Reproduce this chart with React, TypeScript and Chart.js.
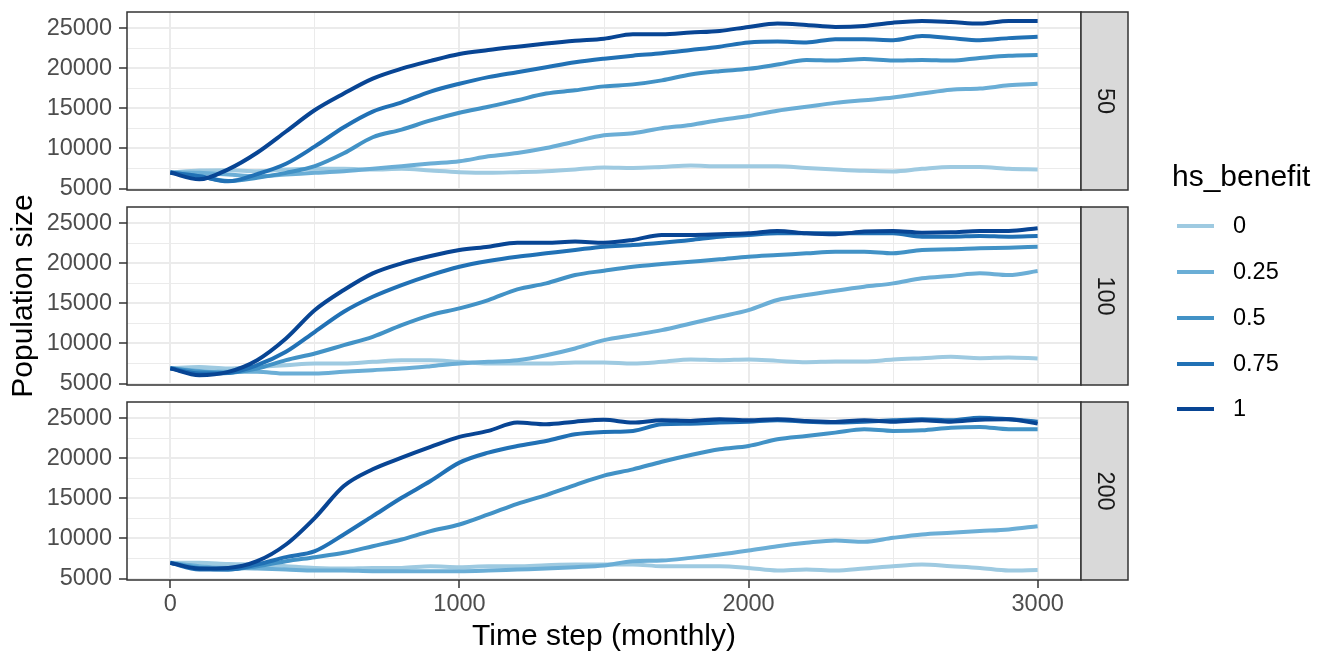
import React, { useEffect, useRef } from 'react';
import { Chart, registerables } from 'chart.js';
Chart.register(...registerables);

// ---------- data ----------
const timeSteps = [0, 100, 200, 300, 400, 500, 600, 700, 800, 900, 1000, 1100, 1200, 1300, 1400, 1500,
  1600, 1700, 1800, 1900, 2000, 2100, 2200, 2300, 2400, 2500, 2600, 2700, 2800, 2900, 3000];
const hsBenefit = ['0', '0.25', '0.5', '0.75', '1'];
const seriesColors = ['#9ECAE1', '#6BAED6', '#4292C6', '#2171B5', '#084594'];
const facetLabels = ['50', '100', '200'];

const xMajorTicks = [0, 1000, 2000, 3000];
const xMinorTicks = [500, 1500, 2500];
const yMajorTicks = [5000, 10000, 15000, 20000, 25000];
const yMinorTicks = [7500, 12500, 17500, 22500];

// facet 50
const f50_b0 = [7000, 7250, 7290, 7170, 7380, 7460, 7460, 7380, 7460, 7250, 7050, 6960, 7050, 7170, 7380, 7640, 7580, 7700, 7870, 7790, 7790, 7790, 7580, 7380, 7210, 7130, 7460, 7700, 7700, 7460, 7380];
const f50_b025 = [7000, 6960, 6760, 6550, 6760, 6960, 7170, 7460, 7790, 8120, 8410, 9020, 9440, 10050, 10880, 11640, 11910, 12520, 12940, 13550, 14050, 14710, 15200, 15690, 16020, 16350, 16850, 17340, 17470, 17880, 18080];
const f50_b05 = [7000, 6550, 5940, 6350, 6960, 7800, 9400, 11400, 12350, 13500, 14460, 15200, 16020, 16850, 17260, 17750, 18000, 18500, 19240, 19650, 19940, 20470, 21050, 20970, 21170, 20970, 21050, 20970, 21300, 21580, 21670];
const f50_b075 = [7000, 6550, 5900, 6800, 8100, 10260, 12650, 14600, 15750, 17100, 18080, 18900, 19520, 20140, 20760, 21210, 21580, 21870, 22280, 22700, 23230, 23350, 23230, 23640, 23640, 23520, 24050, 23770, 23520, 23770, 23930];
const f50_b1 = [7000, 6150, 7400, 9470, 12120, 14800, 16860, 18720, 19960, 20930, 21790, 22280, 22700, 23100, 23440, 23690, 24260, 24260, 24470, 24670, 25170, 25580, 25410, 25170, 25290, 25700, 25910, 25780, 25580, 25910, 25910];

// facet 100
const f100_b0 = [6900, 7080, 6875, 7080, 7290, 7500, 7500, 7710, 7920, 7920, 7710, 7500, 7500, 7500, 7630, 7630, 7500, 7710, 8000, 7920, 8000, 7830, 7670, 7750, 7750, 8000, 8170, 8330, 8170, 8250, 8130];
const f100_b025 = [6900, 6580, 6460, 6460, 6250, 6250, 6460, 6670, 6875, 7170, 7500, 7710, 7920, 8540, 9380, 10420, 11040, 11670, 12500, 13330, 14170, 15420, 16040, 16580, 17080, 17500, 18130, 18420, 18750, 18540, 19040];
const f100_b05 = [6900, 6460, 6330, 6875, 7920, 8750, 9790, 10830, 12290, 13540, 14380, 15420, 16750, 17500, 18540, 19080, 19580, 19920, 20210, 20500, 20830, 21040, 21250, 21460, 21460, 21250, 21670, 21750, 21880, 21960, 22080];
const f100_b075 = [6900, 6250, 6330, 7290, 8960, 11460, 13960, 15830, 17290, 18540, 19580, 20290, 20830, 21250, 21670, 22080, 22290, 22580, 22920, 23330, 23540, 23750, 23750, 23750, 23750, 23750, 23330, 23330, 23420, 23330, 23420];
const f100_b1 = [6900, 6040, 6460, 7920, 10620, 14170, 16670, 18750, 20000, 20920, 21670, 22080, 22580, 22580, 22710, 22580, 22920, 23540, 23540, 23630, 23750, 24040, 23750, 23630, 23960, 24040, 23830, 23880, 24040, 24040, 24380];

// facet 200
const f200_b0 = [6960, 6960, 6830, 6750, 6540, 6330, 6250, 6330, 6330, 6540, 6420, 6540, 6540, 6670, 6750, 6750, 6750, 6540, 6540, 6540, 6330, 6000, 6130, 6000, 6250, 6540, 6750, 6540, 6330, 6000, 6080];
const f200_b025 = [6960, 6540, 6330, 6250, 6130, 6000, 6000, 5920, 5920, 5920, 5920, 6000, 6130, 6250, 6420, 6640, 7170, 7250, 7580, 8000, 8500, 9040, 9460, 9750, 9580, 10080, 10500, 10710, 10920, 11130, 11540];
const f200_b05 = [6960, 6330, 6130, 6540, 7170, 7670, 8210, 9040, 9880, 10920, 11750, 13000, 14330, 15420, 16670, 17850, 18630, 19580, 20420, 21130, 21540, 22380, 22790, 23210, 23630, 23420, 23500, 23830, 23920, 23630, 23630];
const f200_b075 = [6960, 6130, 6130, 6750, 7670, 8420, 10500, 12790, 15080, 17170, 19460, 20710, 21540, 22170, 23000, 23290, 23420, 24250, 24330, 24460, 24580, 24750, 24580, 24460, 24580, 24750, 24880, 24750, 25080, 24880, 24580];
const f200_b1 = [6960, 6250, 6330, 7170, 9250, 12580, 16540, 18630, 20080, 21420, 22670, 23420, 24460, 24250, 24580, 24810, 24460, 24750, 24670, 24880, 24750, 24880, 24670, 24540, 24750, 24580, 24750, 24580, 24830, 24880, 24330];

const facetSeries = [
  [f50_b0, f50_b025, f50_b05, f50_b075, f50_b1],
  [f100_b0, f100_b025, f100_b05, f100_b075, f100_b1],
  [f200_b0, f200_b025, f200_b05, f200_b075, f200_b1],
];

// ---------- layout ----------
const W = 1329;
const FONT = '"Liberation Sans", Arial, Helvetica, sans-serif';
const canvasTops = [0, 195, 390];
const canvasHeights = [200, 200, 264];
const X_MIN = -150, X_MAX = 3150;
const Y_MIN = 4820, Y_MAX = 27030;
const STRIP_W = 47;
const TICK_FONT = 23.5;
const TITLE_FONT = 30;

function makeChart(canvas: HTMLCanvasElement, idx: number) {
  const isBottom = idx === 2;
  const allX = [...xMajorTicks, ...xMinorTicks].sort((a, b) => a - b);
  const allY = [...yMajorTicks, ...yMinorTicks].sort((a, b) => a - b);
  const isMajorX = (v: number) => xMajorTicks.includes(v);
  const isMajorY = (v: number) => yMajorTicks.includes(v);

  const datasets = hsBenefit.map((lab, i) => ({
    label: lab,
    data: timeSteps.map((t, k) => ({ x: t, y: facetSeries[idx][i][k] })),
    borderColor: seriesColors[i],
    backgroundColor: seriesColors[i],
    borderWidth: 4,
    pointRadius: 0,
    fill: false,
    cubicInterpolationMode: 'monotone',
    order: 4 - i,
  }));

  const panelPlugin = {
    id: 'panelDecor' + idx,
    afterDraw(chart: any) {
      const { ctx, chartArea } = chart;
      const { left, top, right, bottom } = chartArea;
      ctx.save();
      ctx.strokeStyle = '#333333';
      ctx.lineWidth = 1.5;
      ctx.strokeRect(left, top, right - left, bottom - top);
      ctx.fillStyle = '#D9D9D9';
      ctx.fillRect(right, top, STRIP_W, bottom - top);
      ctx.strokeRect(right, top, STRIP_W, bottom - top);
      ctx.translate(right + STRIP_W / 2, (top + bottom) / 2);
      ctx.rotate(Math.PI / 2);
      ctx.fillStyle = '#1A1A1A';
      ctx.font = TICK_FONT + 'px ' + FONT;
      ctx.textAlign = 'center';
      ctx.textBaseline = 'middle';
      ctx.fillText(facetLabels[idx], 0, 0);
      ctx.restore();
    },
  };

  return new Chart(canvas, {
    type: 'line',
    data: { datasets },
    options: {
      animation: false,
      responsive: false,
      devicePixelRatio: 1,
      layout: { padding: { left: 0, right: W - 1081, top: 12, bottom: isBottom ? 0 : 10 } },
      plugins: { legend: { display: false }, tooltip: { enabled: false } },
      scales: {
        x: {
          type: 'linear',
          min: X_MIN,
          max: X_MAX,
          afterBuildTicks: (s: any) => { s.ticks = allX.map((v) => ({ value: v })); },
          afterFit: (s: any) => {
            s.height = isBottom ? 74 : 0;
            s.paddingLeft = 0; s.paddingRight = 0; s.paddingTop = 0; s.paddingBottom = 0;
          },
          border: { display: false },
          grid: {
            color: '#EBEBEB',
            lineWidth: (c: any) => (c.tick && isMajorX(c.tick.value) ? 2 : 1),
            drawTicks: isBottom,
            tickLength: 8,
            tickWidth: 1.5,
            tickColor: (c: any) => (c.tick && isMajorX(c.tick.value) ? '#333333' : 'rgba(0,0,0,0)'),
          },
          ticks: {
            display: isBottom,
            autoSkip: false,
            maxRotation: 0,
            padding: 2,
            color: '#4D4D4D',
            font: { family: FONT, size: TICK_FONT },
            callback: (v: any) => (isMajorX(Number(v)) ? String(v) : ''),
          },
        },
        y: {
          type: 'linear',
          min: Y_MIN,
          max: Y_MAX,
          afterBuildTicks: (s: any) => { s.ticks = allY.map((v) => ({ value: v })); },
          afterFit: (s: any) => {
            s.width = 127;
            s.paddingLeft = 0; s.paddingRight = 0; s.paddingTop = 0; s.paddingBottom = 0;
          },
          border: { display: false },
          grid: {
            color: '#EBEBEB',
            lineWidth: (c: any) => (c.tick && isMajorY(c.tick.value) ? 2 : 1),
            drawTicks: true,
            tickLength: 8,
            tickWidth: 1.5,
            tickColor: (c: any) => (c.tick && isMajorY(c.tick.value) ? '#333333' : 'rgba(0,0,0,0)'),
          },
          ticks: {
            autoSkip: false,
            padding: 7,
            color: '#4D4D4D',
            font: { family: FONT, size: TICK_FONT },
            callback: (v: any) => (isMajorY(Number(v)) ? String(v) : ''),
          },
        },
      },
    },
    plugins: [panelPlugin],
  } as any);
}

const legendTops = [226, 272, 318, 364, 409];

export default function App() {
  const r0 = useRef<HTMLCanvasElement>(null);
  const r1 = useRef<HTMLCanvasElement>(null);
  const r2 = useRef<HTMLCanvasElement>(null);

  useEffect(() => {
    const refs = [r0, r1, r2];
    const charts = refs.map((r, i) => makeChart(r.current as HTMLCanvasElement, i));
    return () => charts.forEach((c) => c.destroy());
  }, []);

  const refs = [r0, r1, r2];
  return (
    <div style={{ position: 'absolute', left: 0, top: 0, width: W, height: 654, background: '#FFFFFF', fontFamily: FONT, overflow: 'hidden' }}>
      {refs.map((r, i) => (
        <canvas
          key={i}
          ref={r}
          width={W}
          height={canvasHeights[i]}
          style={{ position: 'absolute', left: 0, top: canvasTops[i], width: W, height: canvasHeights[i] }}
        />
      ))}
      {/* y axis title */}
      <div style={{ position: 'absolute', left: 22 - 150, top: 296 - TITLE_FONT / 2, width: 300, height: TITLE_FONT, lineHeight: TITLE_FONT + 'px', fontSize: TITLE_FONT, textAlign: 'center', color: '#000', transform: 'rotate(-90deg)', whiteSpace: 'nowrap' }}>
        Population size
      </div>
      {/* x axis title */}
      <div style={{ position: 'absolute', left: 604 - 200, top: 635 - TITLE_FONT / 2, width: 400, height: TITLE_FONT, lineHeight: TITLE_FONT + 'px', fontSize: TITLE_FONT, textAlign: 'center', color: '#000', whiteSpace: 'nowrap' }}>
        Time step (monthly)
      </div>
      {/* legend */}
      <div style={{ position: 'absolute', left: 1172, top: 176 - TITLE_FONT / 2, height: TITLE_FONT, lineHeight: TITLE_FONT + 'px', fontSize: TITLE_FONT, color: '#000', whiteSpace: 'nowrap' }}>
        hs_benefit
      </div>
      {hsBenefit.map((lab, i) => (
        <React.Fragment key={lab}>
          <div style={{ position: 'absolute', left: 1177, top: legendTops[i] - 2, width: 37, height: 4, background: seriesColors[i] }} />
          <div style={{ position: 'absolute', left: 1233, top: legendTops[i] - TICK_FONT / 2, height: TICK_FONT, lineHeight: TICK_FONT + 'px', fontSize: TICK_FONT, color: '#000', whiteSpace: 'nowrap' }}>
            {lab}
          </div>
        </React.Fragment>
      ))}
    </div>
  );
}
